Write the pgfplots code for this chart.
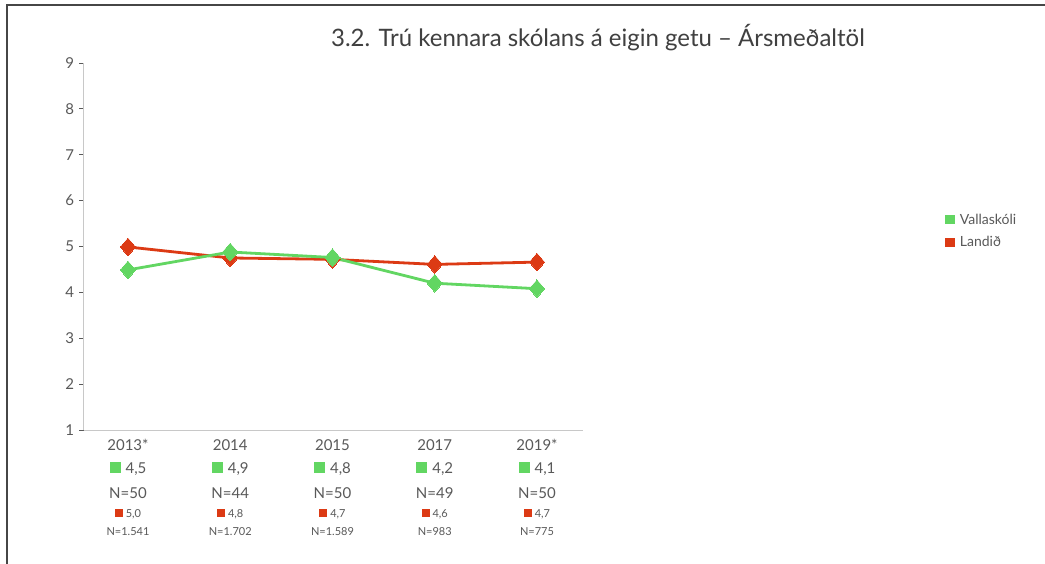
\documentclass[border=0pt]{standalone}
\usepackage{pgfplots}
\pgfplotsset{compat=1.18}
\usepackage{fontspec}
\setmainfont{Lato}
\definecolor{vgreen}{RGB}{98,214,98}
\definecolor{lred}{RGB}{220,58,20}
\definecolor{tgray}{RGB}{89,89,89}
\definecolor{agray}{RGB}{200,200,200}
\newcommand{\cat}[6]{%
  \node[font=\fontsize{15}{15}\selectfont, text=tgray] at (axis cs:#1,1) [yshift=-15pt] {#2};
  \node[font=\fontsize{15}{15}\selectfont, text=tgray] at (axis cs:#1,1) [yshift=-39pt] {\textcolor{vgreen}{\rule{11pt}{11pt}}\hspace{5pt}#3};
  \node[font=\fontsize{15}{15}\selectfont, text=tgray] at (axis cs:#1,1) [yshift=-63pt] {N=#4};
  \node[font=\fontsize{11}{11}\selectfont, text=tgray] at (axis cs:#1,1) [yshift=-84pt] {\textcolor{lred}{\rule{8pt}{8pt}}\hspace{3pt}#5};
  \node[font=\fontsize{11}{11}\selectfont, text=tgray] at (axis cs:#1,1) [yshift=-102pt] {N=#6};
}
\pgfplotstableread{
x g r
0 4.49 4.99
1 4.88 4.75
2 4.76 4.72
3 4.20 4.61
4 4.08 4.66
}\datatable
\begin{document}
\begin{tikzpicture}
\path[use as bounding box] (0,0) rectangle (1045pt,-564pt);
\fill[white] (0,0) rectangle (1045pt,-564pt);
\draw[line width=2pt, color={rgb,255:red,70;green,70;blue,70}] (6.5pt,-564pt) -- (6.5pt,-5pt) -- (1045pt,-5pt);
\node[font=\fontsize{24}{24}\selectfont, text={rgb,255:red,64;green,64;blue,64}] at (598pt,-38pt) {3.2. Trú kennara skólans á eigin getu – Ársmeðaltöl};
\begin{axis}[
  at={(83.5pt,-430pt)}, anchor=south west,
  scale only axis, width=499.5pt, height=367pt,
  xmin=-0.435, xmax=4.45, ymin=1, ymax=9,
  axis lines=left, axis line style={-, agray, line width=0.8pt},
  xtick=\empty,
  ytick={1,...,9},
  tick align=outside, major tick length=4pt,
  y tick style={tgray, line width=0.8pt},
  yticklabel style={font=\fontsize{15}{15}\selectfont, text=tgray, xshift=-2pt},
  /pgf/number format/assume math mode=true,
  clip=false,
  legend style={at={(1.725,0.595)}, anchor=north west, draw=none, fill=none,
    font=\fontsize{14}{14}\selectfont, text=tgray, row sep=7pt, column sep=3pt, inner sep=0pt},
  legend cell align=left,
  legend image code/.code={\fill[#1, draw=none] (0pt,-4.75pt) rectangle (9.5pt,4.75pt);},
]
\addplot[lred, line width=2.8pt, mark=diamond*, mark size=8.8pt, mark options={xscale=1.15, line width=0pt}, forget plot] table[x=x, y=r] {\datatable};
\addplot[vgreen, line width=2.8pt, mark=diamond*, mark size=8.8pt, mark options={xscale=1.15, line width=0pt}] table[x=x, y=g] {\datatable};
\addlegendentry{Vallaskóli}
\addlegendimage{lred}
\addlegendentry{Landið}
\cat{0}{2013*}{4,5}{50}{5,0}{1.541}
\cat{1}{2014}{4,9}{44}{4,8}{1.702}
\cat{2}{2015}{4,8}{50}{4,7}{1.589}
\cat{3}{2017}{4,2}{49}{4,6}{983}
\cat{4}{2019*}{4,1}{50}{4,7}{775}
\end{axis}
\end{tikzpicture}
\end{document}
